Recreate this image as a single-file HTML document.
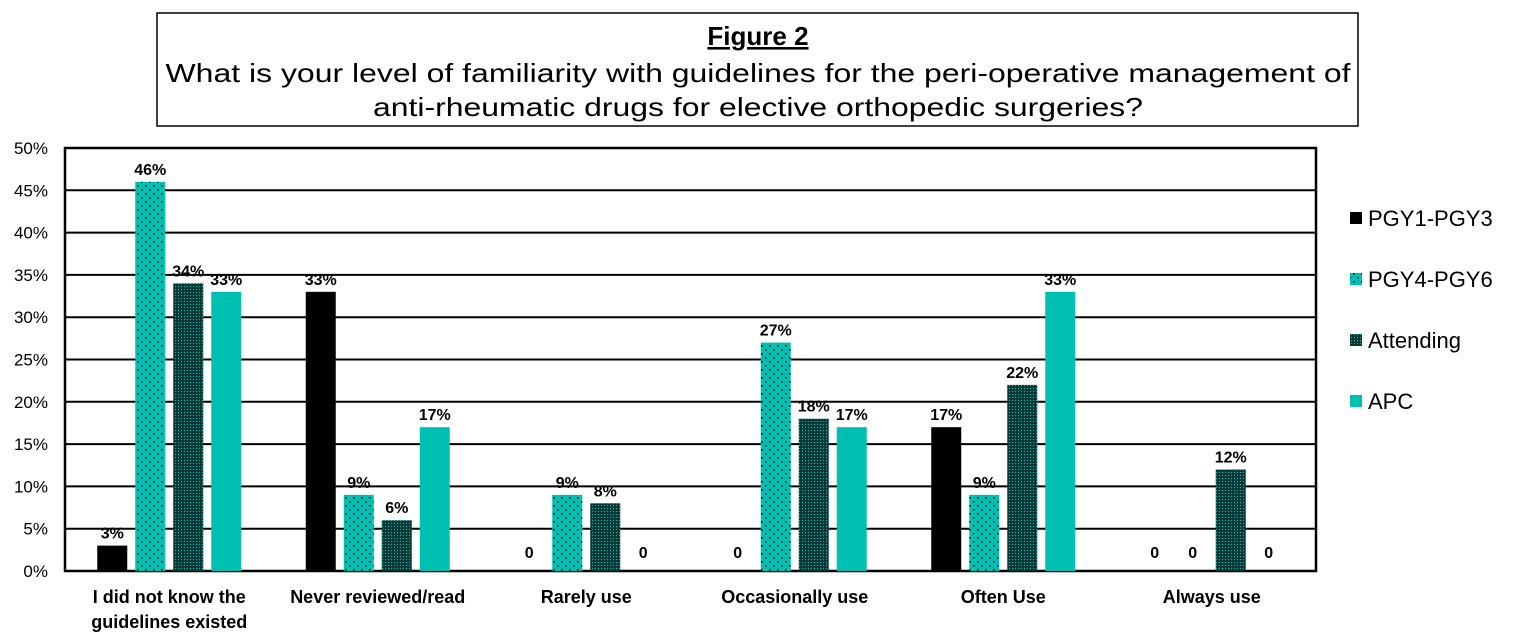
<!DOCTYPE html>
<html><head><meta charset="utf-8"><style>
html,body{margin:0;padding:0;background:#fff;}
svg{display:block;font-family:"Liberation Sans","DejaVu Sans",sans-serif;}
</style></head><body>
<svg id="chart" width="1516" height="643" viewBox="0 0 1516 643">
<defs>
<pattern id="dots" width="8" height="8" patternUnits="userSpaceOnUse">
<rect width="8" height="8" fill="#00BFB3"/><rect x="1" y="1" width="1.6" height="1.6" fill="#000"/><rect x="5" y="5" width="1.6" height="1.6" fill="#000"/>
</pattern>
<pattern id="dense" width="3" height="3" patternUnits="userSpaceOnUse">
<rect width="3" height="3" fill="#0a3a37"/><rect x="1" y="1" width="1" height="1" fill="#00BFB3"/>
</pattern>
</defs>
<g>
<rect x="157" y="13" width="1201" height="113" fill="#fff" stroke="#000" stroke-width="1.5"/>
<text x="758" y="45" text-anchor="middle" font-size="26" font-weight="bold" text-decoration="underline">Figure 2</text>
<text x="758" y="82" text-anchor="middle" font-size="26" textLength="1185" lengthAdjust="spacingAndGlyphs">What is your level of familiarity with guidelines for the peri-operative management of</text>
<text x="758" y="116" text-anchor="middle" font-size="26" textLength="770" lengthAdjust="spacingAndGlyphs">anti-rheumatic drugs for elective orthopedic surgeries?</text>
</g>
<g id="grid"></g><g id="bars"></g><g id="labels"></g>
<g>
<rect x="1350" y="212" width="12" height="12" fill="#000"/>
<text x="1368" y="226" font-size="22">PGY1-PGY3</text>
<rect x="1350" y="273" width="12" height="12" fill="url(#dots)"/>
<text x="1368" y="287" font-size="22">PGY4-PGY6</text>
<rect x="1350" y="334" width="12" height="12" fill="url(#dense)"/>
<text x="1368" y="348" font-size="22">Attending</text>
<rect x="1350" y="395" width="12" height="12" fill="#00BFB3"/>
<text x="1368" y="409" font-size="22">APC</text>
</g>
</svg>
<script>
const categories=[["I did not know the","guidelines existed"],["Never reviewed/read"],["Rarely use"],["Occasionally use"],["Often Use"],["Always use"]];
const pgy1=[3,33,0,0,17,0];
const pgy4=[46,9,9,27,9,0];
const attending=[34,6,8,18,22,12];
const apc=[33,17,0,17,33,0];
const yTicks=[0,5,10,15,20,25,30,35,40,45,50];
const seriesFills=["#000","url(#dots)","url(#dense)","#00BFB3"];
const seriesNames=["pgy1","pgy4","attending","apc"];
const series=[pgy1,pgy4,attending,apc];
const NS="http://www.w3.org/2000/svg";
const L=65,R=1316,T=148,B=571;
const y=v=>B-(v/50)*(B-T);
const gw=(R-L)/categories.length;
const bx=(g,s)=>L+gw*g+gw/2-72+s*38;
function mk(tag,attrs,parent,txt){const e=document.createElementNS(NS,tag);for(const k in attrs)e.setAttribute(k,attrs[k]);if(txt!==undefined)e.textContent=txt;parent.appendChild(e);return e;}
const grid=document.getElementById('grid'),bars=document.getElementById('bars'),labels=document.getElementById('labels');
yTicks.forEach(t=>{
 const ln=mk('line',{x1:L,x2:R,y1:y(t),y2:y(t),stroke:'#000','stroke-width':2},grid);
 
 
 const tx=mk('text',{x:48,y:y(t)+6,'text-anchor':'end','font-size':17},grid,t+'%');
 
 
});
const fr=mk('rect',{x:L,y:T,width:R-L,height:B-T,fill:'none',stroke:'#000','stroke-width':2.5},grid);


series.forEach((vals,s)=>{
 vals.forEach((v,g)=>{
  const x=bx(g,s);
  if(v>0){
   const r=mk('rect',{x:x,y:y(v),width:30,height:B-y(v),fill:seriesFills[s]},bars);
   
   
   const t=mk('text',{x:x+15,y:y(v)-7,'text-anchor':'middle','font-size':16,'font-weight':'bold'},labels,v+'%');
   
   
  }else{
   const t=mk('text',{x:x+15,y:B-13,'text-anchor':'middle','font-size':16,'font-weight':'bold'},labels,'0');
   
   
  }
 });
});
categories.forEach((c,g)=>{
 c.forEach((line,i)=>{
  const t=mk('text',{x:L+gw*g+gw/2,y:603+i*25,'text-anchor':'middle','font-size':18,'font-weight':'bold'},labels,line);
  
  
 });
});
</script>
</body></html>
